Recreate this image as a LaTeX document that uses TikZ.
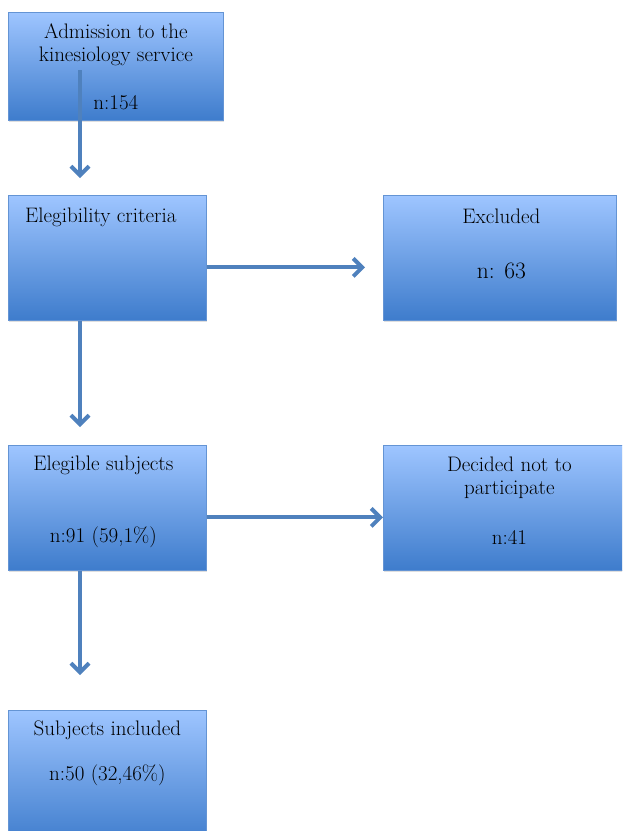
\documentclass[tikz,border=0pt]{standalone}
\usepackage{fontspec}
\usepackage{tikz}
\usetikzlibrary{arrows.meta}
\usetikzlibrary{shadows}
\definecolor{boxtop}{RGB}{158,197,255}
\definecolor{boxbot}{RGB}{62,124,204}
\definecolor{boxline}{RGB}{100,148,212}
\definecolor{flowblue}{RGB}{79,129,189}
\tikzset{
  box/.style = {draw=boxline, line width=0.8pt, top color=boxtop, bottom color=boxbot,
    anchor=north west, inner sep=0pt,
    drop shadow={shadow xshift=1pt, shadow yshift=-2pt, opacity=0.25}},
  flow/.style = {flowblue, line width=4pt, -{Straight Barb[length=9pt,width=18pt]}},
  txt/.style = {font=\fontsize{21}{23}\selectfont, inner sep=0pt, align=center}
}

\begin{document}
\begin{tikzpicture}[x=1pt,y=-1pt]
  \useasboundingbox (0,0) rectangle (622,831);
  \clip (0,0) rectangle (622,831);
  %%% boxes
  \node[box, minimum width=215pt, minimum height=108pt] (adm) at (8,12) {};
  \node[box, minimum width=198pt, minimum height=125pt] (crit) at (8,195) {};
  \node[box, minimum width=233pt, minimum height=125pt] (excl) at (383,195) {};
  \node[box, minimum width=198pt, minimum height=125pt] (elig) at (8,445) {};
  \node[box, minimum width=252pt, minimum height=125pt] (decl) at (383,445) {};
  \node[box, minimum width=198pt, minimum height=135pt] (incl) at (8,710) {};
  %%% texts
  \node[txt] (admname) at ([yshift=-32.5pt]adm.north) {Admission to the\\kinesiology service};
  \node[txt] (admn) at ([yshift=-91pt]adm.north) {n:154};
  \node[txt, anchor=west] (critname) at ([xshift=17pt,yshift=-22pt]crit.north west) {Elegibility criteria};
  \node[txt] (exclname) at ([xshift=1.5pt,yshift=-21pt]excl.north) {Excluded};
  \node[txt, font=\fontsize{23.5}{26}\selectfont] (excln) at ([xshift=1.5pt,yshift=-76pt]excl.north) {n: 63};
  \node[txt] (eligname) at ([xshift=-4pt,yshift=-20pt]elig.north) {Elegible subjects};
  \node[txt] (eligpct) at ([xshift=-4pt,yshift=-92pt]elig.north) {n:91 (59,1\%)};
  \node[txt] (declname) at ([yshift=-33pt]decl.north) {Decided not to\\participate};
  \node[txt] (decln) at ([yshift=-92pt]decl.north) {n:41};
  \node[txt] (inclname) at ([yshift=-20pt]incl.north) {Subjects included};
  \node[txt] (inclpct) at ([yshift=-65pt]incl.north) {n:50 (32,46\%)};
  %%% arrows
  \draw[flow] ([xshift=72pt,yshift=-58pt]adm.north west) -- ([xshift=72pt,yshift=17pt]crit.north west);
  \draw[flow] ([xshift=72pt]crit.south west) -- ([xshift=72pt,yshift=18pt]elig.north west);
  \draw[flow] ([xshift=72pt]elig.south west) -- ([xshift=72pt,yshift=35pt]incl.north west);
  \draw[flow] ([yshift=-9.5pt]crit.east) -- ([xshift=-18pt,yshift=-9.5pt]excl.west);
  \draw[flow] ([yshift=-9.5pt]elig.east) -- ([yshift=-9.5pt]decl.west);
\end{tikzpicture}
\end{document}
